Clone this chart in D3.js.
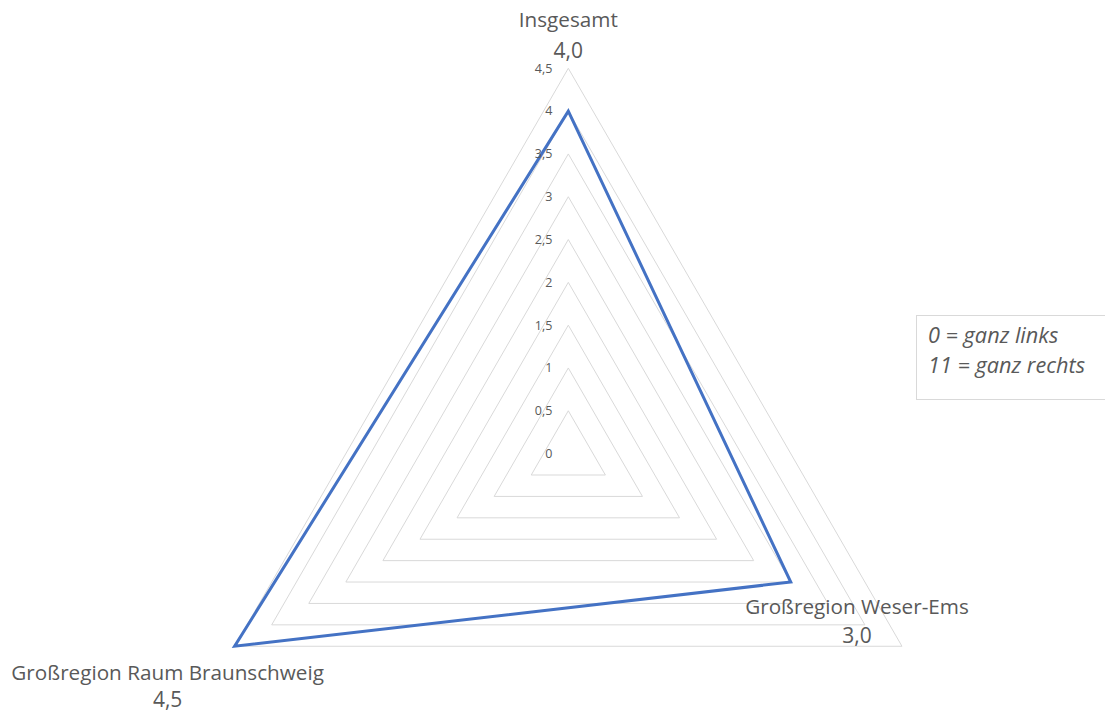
<!DOCTYPE html>
<html>
<head>
<meta charset="utf-8">
<script src="https://cdn.jsdelivr.net/npm/d3@7"></script>
<style>
  html, body { margin: 0; padding: 0; background: #fff; }
  svg { display: block; }
  text { font-family: "Open Sans", "Noto Sans", sans-serif; fill: #595959; }
</style>
</head>
<body>
<svg id="chart" width="1105" height="713"></svg>
<script>
// Radar axes and the single series
const axes = ["Insgesamt", "Großregion Weser-Ems", "Großregion Raum Braunschweig"];
const values = [4.0, 3.0, 4.5];
const valueLabels = ["4,0", "3,0", "4,5"];
const ticks = [0, 0.5, 1, 1.5, 2, 2.5, 3, 3.5, 4, 4.5];
const legendLines = ["0 = ganz links", "11 = ganz rechts"];

const cx = 568.3, cy = 453.6, R = 385.3;
const svg = d3.select("#chart");

const r = d3.scaleLinear().domain([0, 4.5]).range([0, R]);
const angle = i => i * 2 * Math.PI / axes.length;
const pt = (i, v) => [cx + r(v) * Math.sin(angle(i)), cy - r(v) * Math.cos(angle(i))];

const radial = d3.lineRadial()
  .angle((d, i) => angle(i))
  .radius(d => r(d))
  .curve(d3.curveLinearClosed);

const g = svg.append("g").attr("transform", `translate(${cx},${cy})`);

// concentric grid triangles
g.selectAll("path.grid")
  .data(ticks.filter(t => t > 0))
  .join("path")
  .attr("class", "grid")
  .attr("d", t => radial(axes.map(() => t)))
  .attr("fill", "none")
  .attr("stroke", "#d9d9d9")
  .attr("stroke-width", 1);

// tick labels along the top axis
svg.selectAll("text.tick")
  .data(ticks)
  .join("text")
  .attr("class", "tick")
  .attr("x", cx - 16)
  .attr("y", t => cy - r(t))
  .attr("dy", "0.35em")
  .attr("text-anchor", "end")
  .attr("font-size", 12.5)
  .text(t => String(t).replace(".", ","));

// data series
g.append("path")
  .attr("d", radial(values))
  .attr("fill", "none")
  .attr("stroke", "#4472c4")
  .attr("stroke-width", 3)
  .attr("stroke-linejoin", "miter");

// category labels: name and value, offset from the outer vertex
const labelOffsets = [
  { dx: 0, dy: -41, vdy: 31 },
  { dx: -45, dy: -32, vdy: 29 },
  { dx: -67, dy: 34, vdy: 27 }
];
axes.forEach((name, i) => {
  const [x, y] = pt(i, 4.5);
  const o = labelOffsets[i];
  svg.append("text")
    .attr("x", x + o.dx).attr("y", y + o.dy)
    .attr("text-anchor", "middle")
    .attr("font-size", 20.7)
    .text(name);
  svg.append("text")
    .attr("x", x + o.dx).attr("y", y + o.dy + o.vdy)
    .attr("text-anchor", "middle")
    .attr("font-size", 21)
    .text(valueLabels[i]);
});

// note box
const note = svg.append("g");
note.append("rect")
  .attr("x", 916.5).attr("y", 315.5)
  .attr("width", 200).attr("height", 84)
  .attr("fill", "#fff")
  .attr("stroke", "#d9d9d9");
note.selectAll("text")
  .data(legendLines)
  .join("text")
  .attr("x", 928)
  .attr("y", (d, i) => 343 + i * 30)
  .attr("font-size", 21.7)
  .attr("font-style", "italic")
  .text(d => d);
</script>
</body>
</html>
